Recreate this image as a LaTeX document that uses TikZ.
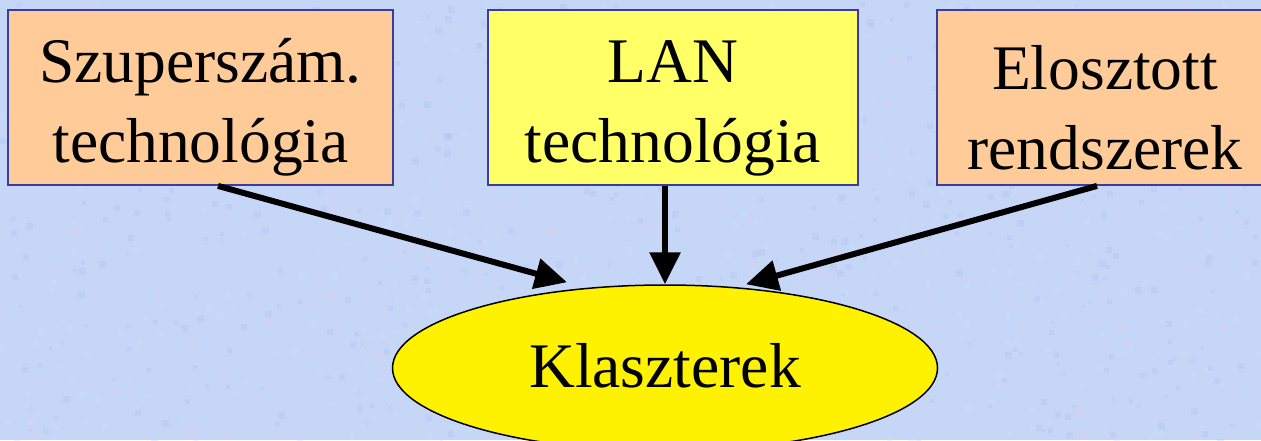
\documentclass[tikz,border=0pt]{standalone}
\usepackage{fontspec}
\setmainfont{Liberation Serif}
\usetikzlibrary{arrows.meta,shapes.geometric,calc}
\definecolor{bgblue}{RGB}{198,214,247}
\definecolor{spotpink}{RGB}{226,206,240}
\definecolor{spotblue}{RGB}{170,188,240}
\definecolor{spotcyan}{RGB}{200,230,252}
\definecolor{peach}{RGB}{255,204,153}
\definecolor{lightyellow}{RGB}{255,255,102}
\definecolor{boxborder}{RGB}{60,60,160}
\tikzset{
  srcbox/.style={draw=boxborder, line width=1.8pt, rectangle, inner sep=0pt,
    minimum height=175pt, align=center, font=\fontsize{63.5}{80}\selectfont},
  clusternode/.style={draw=black, line width=1.5pt, ellipse, fill=yellow,
    inner sep=0pt, minimum width=545pt, minimum height=166pt,
    font=\fontsize{63.5}{80}\selectfont},
  arr/.style={line width=6pt, -{Triangle[length=32pt,width=30pt]}},
}
\newcommand{\tallstrut}{\rule{0pt}{64pt}}
\begin{document}
\begin{tikzpicture}[x=1pt,y=-1pt]
\useasboundingbox (0,0) rectangle (1261,440);
\clip (0,0) rectangle (1261,440);
\fill[bgblue] (0,0) rectangle (1261,440);
\pgfmathsetseed{7}
\foreach \i in {1,...,1400}{
  \pgfmathsetmacro{\px}{random(0,1261)}
  \pgfmathsetmacro{\py}{random(0,440)}
  \pgfmathsetmacro{\pr}{random(3,7)}
  \pgfmathtruncatemacro{\pc}{random(1,3)}
  \ifcase\pc\or
    \fill[spotpink,opacity=0.30] (\px,\py) rectangle ++(\pr,\pr);
  \or
    \fill[spotblue,opacity=0.25] (\px,\py) rectangle ++(\pr,\pr);
  \or
    \fill[spotcyan,opacity=0.30] (\px,\py) rectangle ++(\pr,\pr);
  \fi
}
\node[srcbox, fill=peach, minimum width=385pt] (s1) at (200.5,97.5)
  {\tallstrut Szuperszám.\\technológia};
\node[srcbox, fill=lightyellow, minimum width=370pt] (s2) at (673,97.5)
  {\tallstrut LAN\\technológia};
\node[srcbox, fill=peach, minimum width=336pt] (s3) at (1105,97.5)
  {\tallstrut Elosztott\\rendszerek};
\node[clusternode] (k) at (665,368) {\raisebox{2pt}[43pt][0pt]{Klaszterek}};
\draw[arr] ([xshift=17.5pt]s1.south) -- ([xshift=-98pt,yshift=2pt]k.north);
\draw[arr] (s2.south -| k.north) -- (k.north);
\draw[arr] ([xshift=-8pt]s3.south) -- ([xshift=81pt]k.north);
\end{tikzpicture}
\end{document}
